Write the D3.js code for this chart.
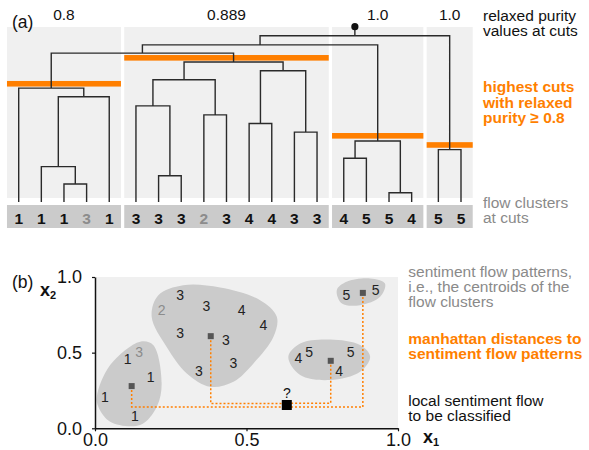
<!DOCTYPE html>
<html>
<head>
<meta charset="utf-8">
<script src="https://cdn.jsdelivr.net/npm/d3@7"></script>
<style>
  body { margin: 0; background: #fff; }
  svg { display: block; font-family: "Liberation Sans", Arial, Helvetica, sans-serif; }
</style>
</head>
<body>
<div id="chart"></div>
<script>
const W = 589, H = 450;
const ORANGE = "#ff7f00";
const GREY_TXT = "#8a8a8a";

// ---- (a) dendrogram data ----
const leafLabels = [1, 1, 1, 3, 1, 3, 3, 3, 2, 3, 4, 4, 3, 3, 4, 5, 5, 4, 5, 5];
const leafOutlier = [3, 8];
const groupSizes = [5, 9, 4, 2];
const purityLabels = ["0.8", "0.889", "1.0", "1.0"];
const cutHeights = [71.1, 86.7, 39.8, 34.3];
// rows: [left, right, height], row k makes node 20 + k
const linkage = [
  [2, 3, 10.8], [1, 20, 21.3], [21, 4, 63.3], [0, 22, 68.5],
  [6, 7, 15.8], [5, 24, 57.8], [8, 9, 52.4], [25, 26, 73.5],
  [10, 11, 47.2], [12, 13, 42], [28, 29, 78.9], [27, 30, 84.2],
  [14, 15, 26.3], [16, 17, 5.6], [32, 33, 36.7],
  [18, 19, 31.5],
  [23, 31, 89.5], [36, 34, 94.5], [37, 35, 100]
];

// ---- (b) scatter data ----
const ptX = [0.033, 0.108, 0.146, 0.184, 0.132,
  0.22, 0.281, 0.368, 0.484, 0.556, 0.281, 0.432, 0.457, 0.343,
  0.671, 0.707, 0.844, 0.806,
  0.830, 0.926];
const ptY = [0.209, 0.457, 0.506, 0.337, 0.083,
  0.781, 0.880, 0.807, 0.781, 0.682, 0.631, 0.583, 0.433, 0.380,
  0.462, 0.506, 0.506, 0.380,
  0.884, 0.917];
const ptLabel = [1, 1, 3, 1, 1, 2, 3, 3, 4, 4, 3, 3, 3, 3, 4, 5, 5, 4, 5, 5];
const ptOutlier = [2, 5];
const centX = [0.121, 0.382, 0.778, 0.884];
const centY = [0.279, 0.609, 0.446, 0.895];
const queryX = 0.633, queryY = 0.154;
const blob1 = [[0.006, 0.209], [0.050, 0.418], [0.149, 0.572], [0.192, 0.550], [0.220, 0.297],
  [0.204, 0.143], [0.149, 0.022], [0.050, 0.044], [0.011, 0.143]];
const blob2 = [[0.187, 0.737], [0.209, 0.880], [0.291, 0.946], [0.413, 0.931], [0.545, 0.847],
  [0.600, 0.737], [0.589, 0.605], [0.523, 0.429], [0.457, 0.308], [0.380, 0.275],
  [0.303, 0.363], [0.236, 0.539]];
const blob3 = [[0.638, 0.473], [0.677, 0.561], [0.776, 0.587], [0.875, 0.550], [0.908, 0.473],
  [0.875, 0.374], [0.776, 0.319], [0.677, 0.352]];
const blob4 = [[0.798, 0.913], [0.830, 0.968], [0.908, 0.990], [0.957, 0.957], [0.941, 0.869],
  [0.875, 0.814], [0.815, 0.825]];

const svg = d3.select("#chart").append("svg").attr("width", W).attr("height", H);

// ================= (a) =================
const GAP = 0.18;
const nLeaves = leafLabels.length;
const leafGroup = [];
groupSizes.forEach((n, g) => { for (let i = 0; i < n; i++) leafGroup.push(g); });

const xLeaf = d3.scaleLinear().domain([0, nLeaves - 1 + (groupSizes.length - 1) * GAP]).range([18.7, 461]);
const yH = d3.scaleLinear().domain([0, 100]).range([202, 35.7]);
const half = (xLeaf(1) - xLeaf(0)) / 2 + 0.4;

const nodeX = leafLabels.map((_, i) => xLeaf(i + leafGroup[i] * GAP));
const nodeH = leafLabels.map(() => 0);
linkage.forEach(([a, b, h]) => {
  nodeX.push((nodeX[a] + nodeX[b]) / 2);
  nodeH.push(h);
});

// panels
let start = 0;
const panels = groupSizes.map((n, g) => {
  const p = { g, x0: nodeX[start] - half, x1: nodeX[start + n - 1] + half };
  start += n;
  return p;
});

const ga = svg.append("g");
ga.selectAll("rect.bg").data(panels).enter().append("rect")
  .attr("x", d => d.x0).attr("width", d => d.x1 - d.x0)
  .attr("y", 27).attr("height", 171).attr("fill", "#f0f0f0");
ga.selectAll("rect.strip").data(panels).enter().append("rect")
  .attr("x", d => d.x0).attr("width", d => d.x1 - d.x0)
  .attr("y", 205).attr("height", 23).attr("fill", "#cbcbcb");
ga.selectAll("rect.cut").data(panels).enter().append("rect")
  .attr("x", d => d.x0).attr("width", d => d.x1 - d.x0)
  .attr("y", d => yH(cutHeights[d.g]) - 2.8).attr("height", 5.6).attr("fill", ORANGE);

// elbows
const path = d3.path();
linkage.forEach(([a, b, h]) => {
  const y = yH(h);
  path.moveTo(nodeX[a], yH(nodeH[a]));
  path.lineTo(nodeX[a], y);
  path.lineTo(nodeX[b], y);
  path.lineTo(nodeX[b], yH(nodeH[b]));
});
const rootId = nodeX.length - 1;
path.moveTo(nodeX[rootId], yH(nodeH[rootId]));
path.lineTo(nodeX[rootId], yH(nodeH[rootId]) - 9);
ga.append("path").attr("d", path.toString())
  .attr("fill", "none").attr("stroke", "#2a2a2a").attr("stroke-width", 1.4);
ga.append("circle").attr("cx", nodeX[rootId]).attr("cy", yH(nodeH[rootId]) - 9)
  .attr("r", 3.6).attr("fill", "#111");

ga.selectAll("text.leaf").data(leafLabels).enter().append("text")
  .attr("x", (d, i) => nodeX[i]).attr("y", 224)
  .attr("text-anchor", "middle").attr("font-size", 15.5).attr("font-weight", "bold")
  .attr("fill", (d, i) => leafOutlier.includes(i) ? "#8c8c8c" : "#111")
  .text(d => d);

ga.selectAll("text.purity").data(panels).enter().append("text")
  .attr("x", d => (d.x0 + d.x1) / 2).attr("y", 20)
  .attr("text-anchor", "middle").attr("font-size", 15.5).attr("fill", "#111")
  .text(d => purityLabels[d.g]);

ga.append("text").attr("x", 12).attr("y", 28).attr("font-size", 17.5).attr("fill", "#111").text("(a)");

function block(x, y, lines, color, bold, lh) {
  const t = svg.append("text").attr("x", x).attr("y", y)
    .attr("font-size", 15.5).attr("fill", color)
    .attr("font-weight", bold ? "bold" : "normal");
  lines.forEach((s, i) => t.append("tspan").attr("x", x).attr("dy", i ? lh : 0).text(s));
}
block(483, 20.5, ["relaxed purity", "values at cuts"], "#111", false, 15);
block(483, 92, ["highest cuts", "with relaxed", "purity \u2265 0.8"], ORANGE, true, 15.5);
block(483, 208.3, ["flow clusters", "at cuts"], GREY_TXT, false, 15);

// ================= (b) =================
const x = d3.scaleLinear().domain([0, 1]).range([95, 398]);
const y = d3.scaleLinear().domain([0, 1]).range([428.3, 277]);
const gb = svg.append("g");

gb.append("rect").attr("x", x(0)).attr("y", y(1))
  .attr("width", x(1) - x(0)).attr("height", y(0) - y(1)).attr("fill", "#f0f0f0");

const blobLine = d3.line().x(d => x(d[0])).y(d => y(d[1])).curve(d3.curveCatmullRomClosed.alpha(0.5));
gb.selectAll("path.blob").data([blob1, blob2, blob3, blob4]).enter().append("path")
  .attr("d", blobLine).attr("fill", "#cbcbcb");

// manhattan paths: vertical from centroid, then horizontal to the query
const offs = [2, -1.6, -1.8, 2];
gb.selectAll("path.man").data(centX).enter().append("path")
  .attr("d", (d, i) => {
    const yy = y(queryY) + offs[i];
    return `M${x(d)},${y(centY[i])}V${yy}H${x(queryX)}`;
  })
  .attr("fill", "none").attr("stroke", ORANGE).attr("stroke-width", 1.5)
  .attr("stroke-dasharray", "2,2");

gb.selectAll("rect.cent").data(centX).enter().append("rect")
  .attr("x", d => x(d) - 3).attr("y", (d, i) => y(centY[i]) - 3)
  .attr("width", 6).attr("height", 6).attr("fill", "#555");

gb.selectAll("text.pt").data(ptLabel).enter().append("text")
  .attr("x", (d, i) => x(ptX[i])).attr("y", (d, i) => y(ptY[i]))
  .attr("dy", "0.36em").attr("text-anchor", "middle").attr("font-size", 14)
  .attr("fill", (d, i) => ptOutlier.includes(i) ? "#8c8c8c" : "#222")
  .text(d => d);

gb.append("rect").attr("x", x(queryX) - 5).attr("y", y(queryY) - 5)
  .attr("width", 10).attr("height", 10).attr("fill", "#000");
gb.append("text").attr("x", x(queryX)).attr("y", y(queryY) - 12)
  .attr("dy", "0.36em").attr("text-anchor", "middle").attr("font-size", 14).attr("fill", "#111").text("?");

const fmt = d3.format(".1f");
const ax = gb.append("g").attr("transform", `translate(0,${y(0)})`)
  .call(d3.axisBottom(x).tickValues([0, 0.5, 1]).tickFormat(fmt).tickSize(3).tickSizeOuter(0).tickPadding(2));
const ay = gb.append("g").attr("transform", `translate(${x(0)},0)`)
  .call(d3.axisLeft(y).tickValues([0, 0.5, 1]).tickFormat(fmt).tickSize(3).tickSizeOuter(0).tickPadding(10));
[ax, ay].forEach(a => {
  a.select(".domain").attr("stroke", "#111").attr("stroke-width", 1.5);
  a.selectAll(".tick line").attr("stroke", "#111").attr("stroke-width", 1.2);
  a.selectAll("text").attr("font-size", 18).attr("fill", "#111")
    .attr("font-family", "'Liberation Sans', Arial, sans-serif");
});

const x1 = gb.append("text").attr("x", 423).attr("y", 443).attr("font-size", 18).attr("font-weight", "bold").attr("fill", "#111");
x1.append("tspan").text("x");
x1.append("tspan").attr("font-size", 11).attr("dy", 3).text("1");
const x2 = gb.append("text").attr("x", 40).attr("y", 296).attr("font-size", 18).attr("font-weight", "bold").attr("fill", "#111");
x2.append("tspan").text("x");
x2.append("tspan").attr("font-size", 11).attr("dy", 3).text("2");

gb.append("text").attr("x", 12).attr("y", 288).attr("font-size", 17.5).attr("fill", "#111").text("(b)");

block(408.3, 276.7, ["sentiment flow patterns,", "i.e., the centroids of the", "flow clusters"], GREY_TXT, false, 15);
block(408.3, 344.3, ["manhattan distances to", "sentiment flow patterns"], ORANGE, true, 15);
block(408.3, 405.5, ["local sentiment flow", "to be classified"], "#111", false, 15);
</script>
</body>
</html>
